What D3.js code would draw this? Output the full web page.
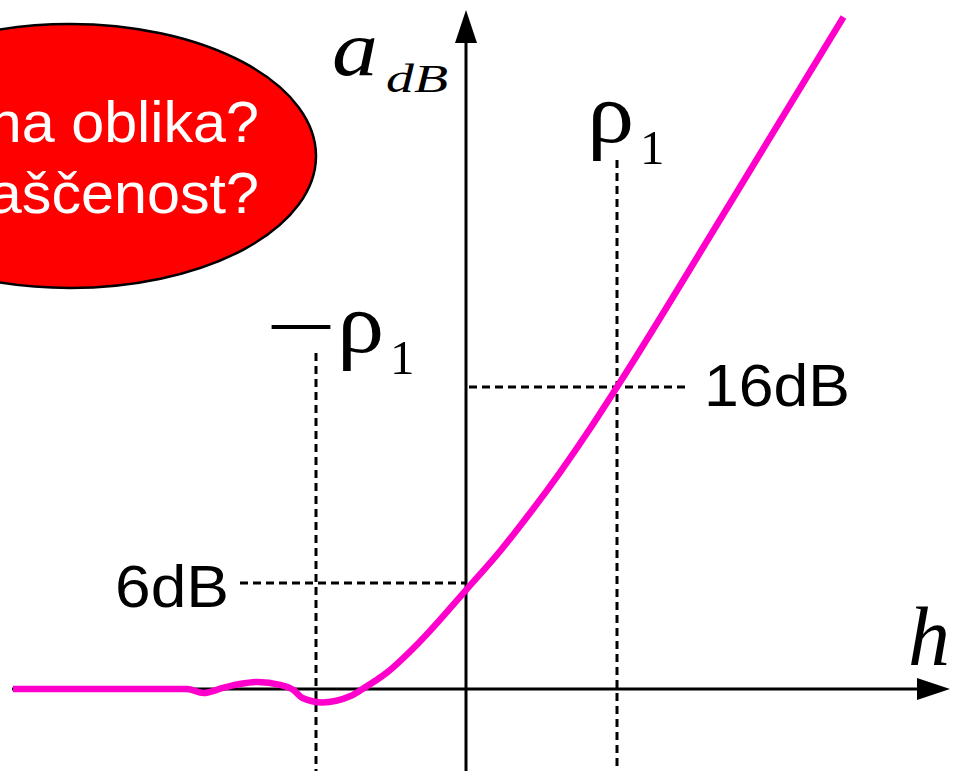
<!DOCTYPE html>
<html>
<head>
<meta charset="utf-8">
<script src="https://cdn.jsdelivr.net/npm/d3@7"></script>
<style>
  html, body { margin: 0; padding: 0; background: #fff; overflow: hidden; }
  svg { display: block; }
</style>
</head>
<body>
<svg id="chart" width="955" height="771"></svg>
<script>
// Attenuation curve a_dB as a function of h (h in units of rho_1)
const curveH  = [-3.02, -1.97, -1.86, -1.75, -1.62, -1.51, -1.39, -1.24, -1.15, -1.09, -0.96, -0.77, -0.69, -0.53, -0.31, 0, 0.225, 0.424, 0.623, 0.821, 1, 1.75, 2.5];
const curveDb = [0, 0, 0, -0.23, 0.06, 0.28, 0.4, 0.23, -0.06, -0.51, -0.76, -0.4, 0, 0.91, 2.66, 5.6, 7.62, 9.57, 11.65, 13.87, 16, 25.39, 34.88];

// Reference levels on the a_dB axis
const levelValues = [6, 16];
const levelLabels = ["6dB", "16dB"];

// Marked positions on the h axis
const markValues = [-1, 1];
const markSigns  = ["\u2014", ""];

// Callout text
const calloutLines = ["Kakšna oblika?", "Splaščenost?"];

const svg = d3.select("#chart");

const x = d3.scaleLinear().domain([-1, 0, 1]).range([316, 466, 617]);
const y = d3.scaleLinear().domain([0, 6, 16]).range([689, 583, 387]);

const serif = "'Liberation Serif', 'Times New Roman', serif";
const sans  = "'Liberation Sans', Arial, sans-serif";
const pink  = "#ff00cc";

// Callout ellipse
const callout = svg.append("g");
callout.append("ellipse")
  .attr("cx", 70).attr("cy", 156).attr("rx", 246).attr("ry", 132)
  .attr("fill", "#ff0000").attr("stroke", "#000").attr("stroke-width", 2.5);
callout.selectAll("text").data(calloutLines).join("text")
  .attr("transform", (d, i) => `translate(259,${142 + i * 71}) scale(1.04,1)`)
  .attr("text-anchor", "end")
  .attr("font-family", sans).attr("font-size", 57)
  .attr("fill", "#fff")
  .text(d => d);

// Dashed guide lines
const guides = svg.append("g")
  .attr("stroke", "#000").attr("stroke-width", 3).attr("stroke-dasharray", "8,5").attr("fill", "none");

guides.append("line")
  .attr("x1", 240).attr("x2", x(0)).attr("y1", y(levelValues[0])).attr("y2", y(levelValues[0]));
guides.append("line")
  .attr("x1", x(0) + 3).attr("x2", 690).attr("y1", y(levelValues[1])).attr("y2", y(levelValues[1]));
guides.append("line")
  .attr("x1", x(markValues[0])).attr("x2", x(markValues[0])).attr("y1", 353).attr("y2", 771);
guides.append("line")
  .attr("x1", x(markValues[1])).attr("x2", x(markValues[1])).attr("y1", 160).attr("y2", 771);

// Level labels
svg.append("text")
  .attr("x", 229).attr("y", y(levelValues[0]) + 24)
  .attr("text-anchor", "end")
  .attr("font-family", sans).attr("font-size", 59)
  .attr("textLength", 114).attr("lengthAdjust", "spacingAndGlyphs")
  .text(levelLabels[0]);
svg.append("text")
  .attr("x", 704).attr("y", y(levelValues[1]) + 19)
  .attr("font-family", sans).attr("font-size", 59)
  .attr("textLength", 146).attr("lengthAdjust", "spacingAndGlyphs")
  .text(levelLabels[1]);

// Axes
const axes = svg.append("g");
axes.append("line")
  .attr("x1", 12).attr("x2", 920).attr("y1", y(0)).attr("y2", y(0))
  .attr("stroke", "#000").attr("stroke-width", 3);
axes.append("path")
  .attr("d", `M950,${y(0)} L917,${y(0) - 11} L917,${y(0) + 11} Z`)
  .attr("fill", "#000");
axes.append("line")
  .attr("x1", x(0)).attr("x2", x(0)).attr("y1", 771).attr("y2", 40)
  .attr("stroke", "#000").attr("stroke-width", 3);
axes.append("path")
  .attr("d", `M${x(0)},10 L${x(0) - 11},43 L${x(0) + 11},43 Z`)
  .attr("fill", "#000");

// Axis titles
svg.append("text")
  .attr("x", 332).attr("y", 75)
  .attr("font-family", serif).attr("font-style", "italic").attr("font-size", 78)
  .attr("textLength", 46).attr("lengthAdjust", "spacingAndGlyphs")
  .text("a");
svg.append("text")
  .attr("x", 386).attr("y", 92)
  .attr("font-family", serif).attr("font-style", "italic").attr("font-size", 41)
  .attr("textLength", 62).attr("lengthAdjust", "spacingAndGlyphs")
  .text("dB");

svg.append("text")
  .attr("x", 908).attr("y", 665)
  .attr("font-family", serif).attr("font-style", "italic").attr("font-size", 84)
  .text("h");

// rho_1 markers
const markPos = [{ left: 337, base: 352 }, { left: 587, base: 142 }];
markValues.forEach((v, i) => {
  const g = svg.append("g").attr("font-family", serif);
  if (markSigns[i]) {
    g.append("text")
      .attr("x", markPos[i].left - 65).attr("y", markPos[i].base - 12)
      .attr("font-size", 58).attr("font-weight", "bold")
      .attr("textLength", 58).attr("lengthAdjust", "spacingAndGlyphs")
      .text(markSigns[i]);
  }
  g.append("text")
    .attr("transform", `translate(${markPos[i].left},${markPos[i].base}) scale(1.1,1)`)
    .attr("font-size", 86).text("\u03C1");
  g.append("text")
    .attr("x", markPos[i].left + 53).attr("y", markPos[i].base + 22)
    .attr("font-size", 49).text("1");
});

// Curve
const pts = curveH.map((h, i) => [h, curveDb[i]]);
const line = d3.line()
  .x(d => x(d[0]))
  .y(d => y(d[1]))
  .curve(d3.curveMonotoneX);
svg.append("path")
  .datum(pts)
  .attr("d", line)
  .attr("fill", "none")
  .attr("stroke", pink)
  .attr("stroke-width", 6.5);
</script>
</body>
</html>
